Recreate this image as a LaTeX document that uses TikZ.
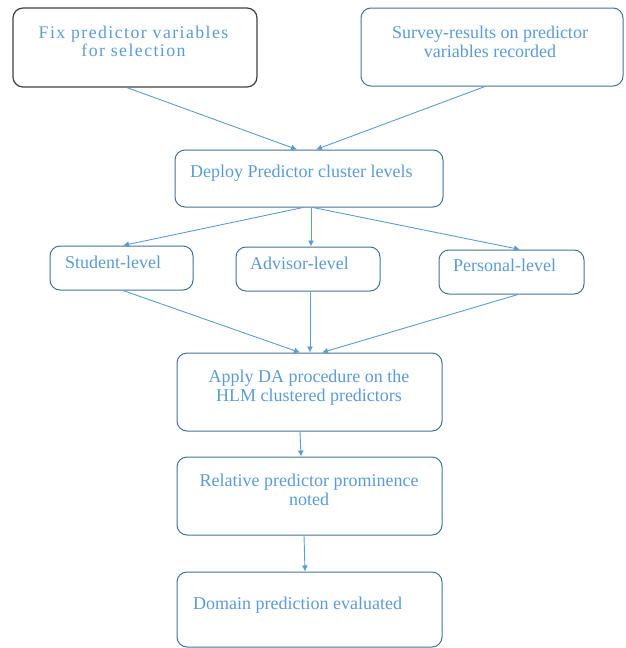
\documentclass[tikz,border=0pt]{standalone}
\usepackage{fontspec}
\setmainfont{Liberation Serif}
\newfontfamily\spacedfont[LetterSpace=8]{Liberation Serif}
\usetikzlibrary{arrows.meta}
\definecolor{txtblue}{HTML}{5B9BD5}
\definecolor{edgeblue}{HTML}{41719C}
\definecolor{arrblue}{HTML}{5B9BD5}
\tikzset{
  box/.style={draw=edgeblue, line width=1pt, rounded corners=10pt, inner sep=0pt},
  darkbox/.style={box, draw=black!75, line width=1.2pt},
  lbl/.style={text=txtblue, font=\fontsize{18}{19}\selectfont, inner sep=0pt, align=center},
  conn/.style={draw=arrblue, line width=0.9pt, -{Latex[length=6pt,width=6pt]}}
}
\begin{document}
\begin{tikzpicture}[x=1pt,y=-1pt]
\useasboundingbox (0,0) rectangle (625,648);
% boxes
\node[darkbox, minimum width=244pt, minimum height=79pt] (b1) at (135,47.5) {};
\node[box, minimum width=262pt, minimum height=78pt] (b2) at (492,47) {};
\node[box, minimum width=268pt, minimum height=57pt] (b3) at (309,178.5) {};
\node[box, minimum width=143pt, minimum height=44pt] (s) at (121.5,268) {};
\node[box, minimum width=144pt, minimum height=44pt] (a) at (308,269) {};
\node[box, minimum width=145pt, minimum height=44pt] (p) at (511.5,272) {};
\node[box, minimum width=265pt, minimum height=78pt] (ap) at (309.5,392) {};
\node[box, minimum width=265pt, minimum height=78pt] (rl) at (309.5,496) {};
\node[box, minimum width=265pt, minimum height=75pt] (dm) at (309.5,609.5) {};
% texts
\node[lbl, font=\spacedfont\fontsize{17.8}{18}\selectfont] (t1) at (133.5,41) {Fix predictor variables\\for selection};
\node[lbl] (t2) at (490,41.5) {Survey-results on predictor\\variables recorded};
\node[lbl, anchor=west] (t3) at (190,173) {Deploy Predictor cluster levels};
\node[lbl, anchor=west] (ts) at (65,262) {Student-level};
\node[lbl, anchor=west] (ta) at (250,263) {Advisor-level};
\node[lbl, anchor=west] (tp) at (453,265) {Personal-level};
\node[lbl] (tap) at (309,387.5) {Apply DA procedure on the\\HLM clustered predictors};
\node[lbl] (trl) at (309,490) {Relative predictor prominence\\noted};
\node[lbl, anchor=west] (tdm) at (193,605) {Domain prediction evaluated};
% connectors
\draw[conn] ([xshift=-8pt]b1.south) -- ([xshift=-12pt]b3.north);
\draw[conn] ([xshift=-7pt]b2.south) -- ([xshift=7pt]b3.north);
\draw[conn] ([xshift=-6pt]b3.south) -- ([xshift=1.5pt]s.north);
\draw[conn] ([xshift=2pt]b3.south) -- ([xshift=3pt]a.north);
\draw[conn] ([xshift=4pt]b3.south) -- ([xshift=8.5pt]p.north);
\draw[conn] ([xshift=1.5pt]s.south) -- ([xshift=-9.5pt]ap.north);
\draw[conn] ([xshift=2pt]a.south) -- ([xshift=0.5pt]ap.north);
\draw[conn] ([xshift=6.5pt]p.south) -- ([xshift=12.5pt]ap.north);
\draw[conn] ([xshift=-9.5pt]ap.south) -- ([xshift=-8.5pt]rl.north);
\draw[conn] ([xshift=-5.5pt]rl.south) -- ([xshift=-4.5pt]dm.north);
\end{tikzpicture}
\end{document}
